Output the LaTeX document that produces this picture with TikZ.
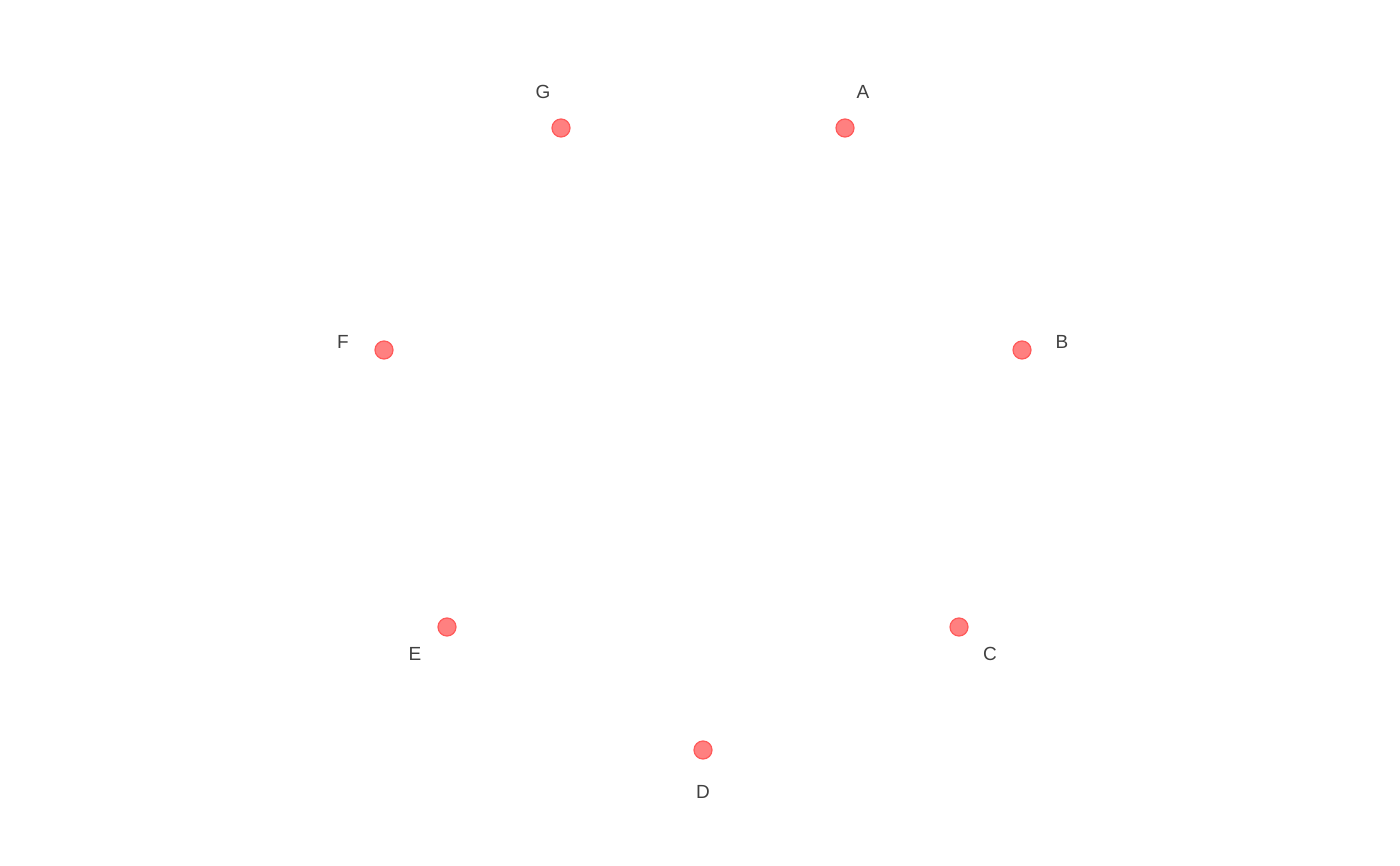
\documentclass[tikz,border=0pt]{standalone}
\usepackage{fontspec}
\setmainfont{Liberation Sans}
\definecolor{dotfill}{HTML}{FF8080}
\definecolor{dotline}{HTML}{FF5A5A}
\definecolor{labelgray}{HTML}{404040}
\begin{document}
\begin{tikzpicture}[x=1pt,y=-1pt,
    dot/.style={circle, fill=dotfill, draw=dotline, line width=1.2pt, minimum size=18pt, inner sep=0pt},
    lbl/.style={text=labelgray, font=\fontsize{19}{19}\selectfont, inner sep=0pt}]
                    \useasboundingbox (0,0) rectangle (1400,866);
                    % Points
                    \node[dot] (pA) at (845,128) {};
                    \node[dot] (pB) at (1022,350) {};
                    \node[dot] (pC) at (959,627) {};
                    \node[dot] (pD) at (703,750) {};
                    \node[dot] (pE) at (447,627) {};
                    \node[dot] (pF) at (384,350) {};
                    \node[dot] (pG) at (561,128) {};
                    % Labels
                    \node[lbl] (lA) at (863,92) {A};
                    \node[lbl] (lB) at (1062,342) {B};
                    \node[lbl] (lC) at (990,654) {C};
                    \node[lbl] (lD) at (703,792) {D};
                    \node[lbl] (lE) at (415,654) {E};
                    \node[lbl] (lF) at (343,342) {F};
                    \node[lbl] (lG) at (543,92) {G};
                \end{tikzpicture}
\end{document}
